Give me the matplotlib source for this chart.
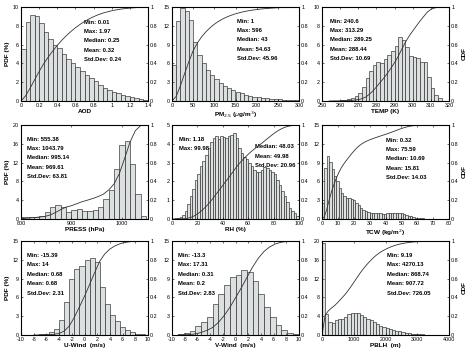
import numpy as np
import matplotlib
matplotlib.use("Agg")
import matplotlib.pyplot as plt
from matplotlib.ticker import FuncFormatter

plt.rcParams['font.family'] = ['Liberation Sans', 'DejaVu Sans']

# ---------------- data ----------------
aod_start, aod_width = 0.0, 0.05
aod_pdf = [5.5, 8.4, 9.1, 9.0, 8.3, 7.3, 6.6, 6.0, 5.6, 5.0, 4.5, 4.0, 3.6, 3.2,
           2.8, 2.4, 2.1, 1.7, 1.4, 1.2, 1.0, 0.8, 0.6, 0.5, 0.4, 0.3, 0.2, 0.15,
           0.1, 0.05]
aod_stats = ["Min: 0.01", "Max: 1.97", "Median: 0.25", "Mean: 0.32", "Std.Dev: 0.24"]

pm_start, pm_width = 0.0, 10.0
pm_pdf = [5.7, 12.8, 14.8, 14.3, 12.9, 9.4, 7.3, 6.0, 5.0, 4.2, 3.5, 2.9, 2.4, 2.0,
          1.7, 1.4, 1.2, 1.0, 0.85, 0.7, 0.6, 0.5, 0.4, 0.35, 0.3, 0.25, 0.2,
          0.18, 0.15, 0.12]
pm_stats = ["Min: 1", "Max: 596", "Median: 43", "Mean: 54.63", "Std.Dev: 45.96"]

temp_start, temp_width = 254.0, 2.0
temp_pdf = [0.05, 0.05, 0.05, 0.1, 0.1, 0.2, 0.3, 0.5, 0.8, 1.5, 2.5, 3.2, 3.8,
            4.2, 4.0, 4.5, 4.9, 5.3, 5.8, 6.8, 6.5, 5.7, 4.8, 4.7, 4.6, 4.2,
            4.1, 2.6, 1.4, 0.6, 0.3]
temp_stats = ["Min: 240.6", "Max: 313.29", "Median: 289.25", "Mean: 288.44", "Std.Dev: 10.69"]

press_start, press_width = 794.3, 10.57
press_pdf = [0.5, 0.5, 0.5, 0.5, 0.6, 1.5, 2.6, 3.0, 2.6, 1.4, 2.0, 2.1, 1.6,
             1.7, 2.0, 2.5, 4.3, 6.2, 10.7, 15.8, 16.6, 11.8, 5.3, 0.6]
press_stats = ["Min: 555.38", "Max: 1043.79", "Median: 995.14", "Mean: 969.61", "Std.Dev: 63.81"]

rh_start, rh_width = 0.0, 2.0
rh_pdf = [0.02, 0.03, 0.05, 0.1, 0.2, 0.45, 0.8, 1.2, 1.6, 2.1, 2.4, 2.8, 3.1,
          3.4, 3.8, 4.1, 4.3, 4.4, 4.25, 4.4, 4.35, 4.3, 4.4, 4.45, 4.55, 4.3,
          3.8, 3.5, 3.3, 3.2, 3.0, 2.8, 2.6, 2.5, 2.5, 2.6, 2.75, 2.7, 2.6, 2.5,
          2.4, 2.1, 1.8, 1.5, 1.2, 0.9, 0.6, 0.4, 0.3, 0.15]
rh_stats = ["Min: 1.18", "Max: 99.98", "Median: 48.03", "Mean: 49.98", "Std.Dev: 20.96"]

tcw_start, tcw_width = 0.0, 1.5
tcw_pdf = [2.5, 8.2, 10.1, 9.1, 8.0, 6.8, 6.1, 5.0, 4.2, 3.6, 3.4, 3.3, 3.2, 3.0,
           2.6, 2.2, 1.8, 1.5, 1.3, 1.1, 1.0, 0.95, 0.9, 0.9, 0.9, 0.85, 0.85,
           0.9, 0.95, 0.95, 1.0, 1.0, 0.95, 0.9, 0.8, 0.7, 0.55, 0.4, 0.3, 0.2,
           0.15, 0.1, 0.08, 0.05]
tcw_stats = ["Min: 0.32", "Max: 75.59", "Median: 10.69", "Mean: 15.81", "Std.Dev: 14.03"]

u_start, u_width = -8.0, 0.8
u_pdf = [0.03, 0.08, 0.2, 0.4, 0.9, 2.4, 5.2, 9.0, 10.6, 11.0, 12.0, 12.3, 11.6,
         7.6, 5.0, 3.2, 2.2, 1.3, 0.8, 0.4, 0.2, 0.1]
u_stats = ["Min: -15.39", "Max: 14", "Median: 0.68", "Mean: 0.68", "Std.Dev: 2.31"]

v_start, v_width = -9.0, 0.9
v_pdf = [0.1, 0.3, 0.7, 1.4, 2.0, 2.8, 4.9, 6.6, 8.0, 9.3, 9.6, 10.3, 10.1, 8.6,
         6.6, 4.4, 2.9, 1.6, 0.8, 0.3, 0.1]
v_stats = ["Min: -13.3", "Max: 17.31", "Median: 0.31", "Mean: 0.2", "Std.Dev: 2.83"]

pblh_start, pblh_width = 0.0, 100.0
pblh_pdf = [19.6, 4.4, 2.8, 2.5, 3.1, 3.4, 3.5, 3.8, 4.4, 4.6, 4.7, 4.6, 4.2, 3.8,
            3.5, 3.2, 2.8, 2.4, 2.0, 1.7, 1.5, 1.3, 1.1, 0.9, 0.75, 0.6, 0.5,
            0.4, 0.3, 0.25, 0.2, 0.15, 0.1, 0.08, 0.05, 0.04, 0.03]
pblh_stats = ["Min: 9.19", "Max: 4270.13", "Median: 868.74", "Mean: 907.72", "Std.Dev: 726.05"]

xlabels = ["AOD", r"PM$_{2.5}$ ($\mu$g/m$^3$)", "TEMP (K)",
           "PRESS (hPa)", "RH (%)", r"TCW (kg/m$^2$)",
           "U-Wind  (m/s)", "V-Wind  (m/s)", "PBLH  (m)"]

panels = [
    (aod_start, aod_width, aod_pdf, aod_stats, (0, 1.4), np.arange(0, 1.41, 0.2), (0, 10), np.arange(0, 11, 2), (0.50, 0.84)),
    (pm_start, pm_width, pm_pdf, pm_stats, (0, 300), np.arange(0, 301, 50), (0, 15), np.arange(0, 16, 3), (0.51, 0.85)),
    (temp_start, temp_width, temp_pdf, temp_stats, (250, 320), np.arange(250, 321, 10), (0, 10), np.arange(0, 11, 2), (0.06, 0.85)),
    (press_start, press_width, press_pdf, press_stats, (800, 1052), [800, 900, 1000], (0, 20), np.arange(0, 21, 4), (0.05, 0.85)),
    (rh_start, rh_width, rh_pdf, rh_stats, (0, 100), np.arange(0, 101, 20), (0, 5), np.arange(0, 6, 1), None),
    (tcw_start, tcw_width, tcw_pdf, tcw_stats, (0, 80), np.arange(0, 81, 10), (0, 15), np.arange(0, 16, 3), (0.50, 0.84)),
    (u_start, u_width, u_pdf, u_stats, (-10, 10), np.arange(-10, 11, 2), (0, 15), np.arange(0, 16, 3), (0.05, 0.845)),
    (v_start, v_width, v_pdf, v_stats, (-10, 10), np.arange(-10, 11, 2), (0, 15), np.arange(0, 16, 3), (0.05, 0.845)),
    (pblh_start, pblh_width, pblh_pdf, pblh_stats, (0, 4000), np.arange(0, 4001, 1000), (0, 20), np.arange(0, 21, 4), (0.51, 0.845)),
]

W, H = 474, 358
fig = plt.figure(figsize=(W / 100, H / 100), dpi=100)
col_left = [21, 172, 322]
row_top = [7, 125, 241]
aw, ah = 127, 94

gfmt = FuncFormatter(lambda v, p: ("%g" % round(v, 6)))
tick_fs = 3.9
stat_fs = 4.2
lab_fs = 4.6

for i, (start, width, pdf, stats, xlim, xt, ylim, yt, tpos) in enumerate(panels):
    r, c = divmod(i, 3)
    ax = fig.add_axes([col_left[c] / W, 1 - (row_top[r] + ah) / H, aw / W, ah / H])
    pdf = np.asarray(pdf, dtype=float)
    edges = start + width * np.arange(len(pdf) + 1)
    ax.bar(edges[:-1], pdf, width=width, align='edge', color='#dde0e0',
           edgecolor='#2a2a2a', linewidth=0.45)
    ax.set_xlim(*xlim)
    ax.set_ylim(*ylim)
    ax.set_xticks(xt)
    ax.set_yticks(yt)
    ax.xaxis.set_major_formatter(gfmt)
    ax.yaxis.set_major_formatter(gfmt)
    ax.tick_params(direction='in', length=1.5, width=0.4, labelsize=tick_fs, pad=1.5, top=True)
    for s in ax.spines.values():
        s.set_linewidth(0.6)
    ax.set_xlabel(xlabels[i], fontsize=lab_fs, fontweight='bold', labelpad=1)
    if c == 0:
        ax.set_ylabel("PDF (%)", fontsize=lab_fs, fontweight='bold', labelpad=2)

    ax2 = ax.twinx()
    cdf = np.concatenate([[0.0], np.cumsum(pdf) / pdf.sum()])
    ax2.plot(edges, cdf, color='#333333', linewidth=0.6, linestyle='-')
    ax2.set_xlim(*xlim)
    ax2.set_ylim(0, 1)
    ax2.set_yticks(np.arange(0, 1.01, 0.2))
    ax2.yaxis.set_major_formatter(gfmt)
    ax2.tick_params(direction='in', length=1.5, width=0.4, labelsize=tick_fs, pad=1.5)
    if c == 2:
        ax2.set_ylabel("CDF", fontsize=lab_fs, fontweight='bold', labelpad=2)

    if tpos is not None:
        for k, s in enumerate(stats):
            ax.text(tpos[0], tpos[1] - 0.1 * k, s, transform=ax.transAxes,
                    fontsize=stat_fs, fontweight='bold', va='center', ha='left')
    else:
        pos = [(0.055, 0.85), (0.055, 0.75), (0.65, 0.77), (0.65, 0.67), (0.65, 0.57)]
        for s, (x, y) in zip(stats, pos):
            ax.text(x, y, s, transform=ax.transAxes,
                    fontsize=stat_fs, fontweight='bold', va='center', ha='left')

fig.savefig("out.png", dpi=100)
